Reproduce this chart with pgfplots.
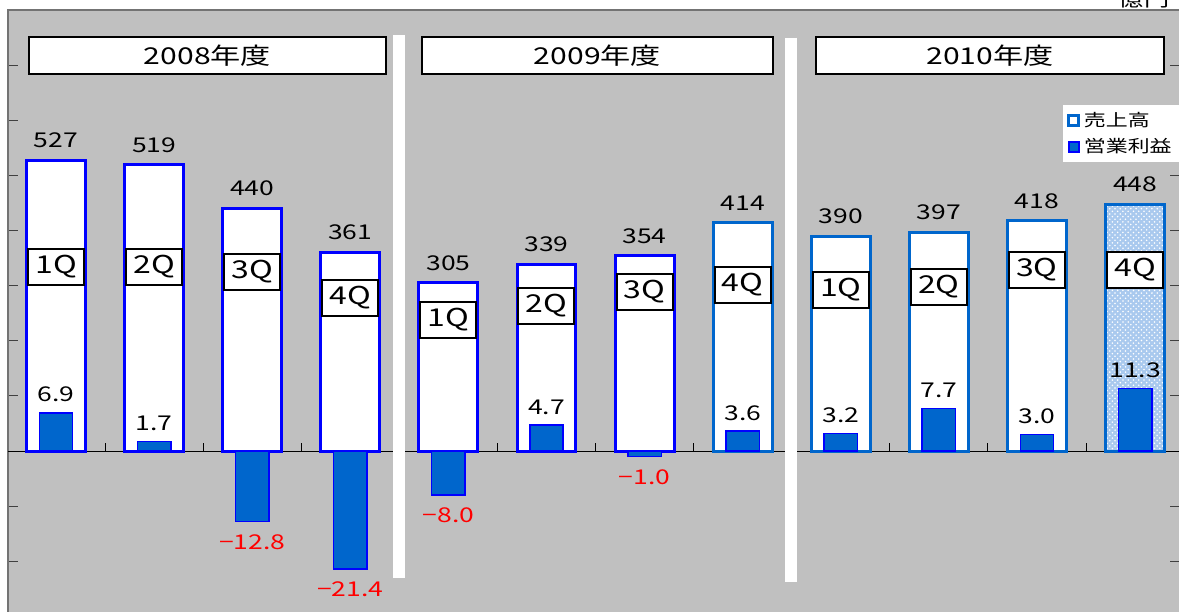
\documentclass[border=0pt]{standalone}
\usepackage{fontspec}
\setmainfont{Noto Sans CJK JP}[FakeStretch=1.3]
\usepackage{pgfplots}
\pgfplotsset{compat=1.18}
\usepackage{pgfplotstable}
\usetikzlibrary{patterns}

\definecolor{bg}{HTML}{C0C0C0}
\definecolor{bbar}{HTML}{0000FF}
\definecolor{mbar}{HTML}{0066CC}
\definecolor{dotfill}{HTML}{A9C9EE}

% revenue (left scale), three border styles
\pgfplotstableread{
x rev
0 527
1 519
2 440
3 361
4 305
5 339
6 354
}\revA
\pgfplotstableread{
x rev
7 414
8 390
9 397
10 418
}\revB
\pgfplotstableread{
x rev
11 448
}\revC
% operating profit
\pgfplotstableread{
x op lab
0 6.9 6.9
1 1.7 1.7
5 4.7 4.7
7 3.6 3.6
8 3.2 3.2
9 7.7 7.7
10 3.0 3.0
11 11.3 11.3
}\profpos
\pgfplotstableread{
x op lab
2 -12.8 −12.8
3 -21.4 −21.4
4 -8.0 −8.0
6 -1.0 −1.0
}\profneg

\tikzset{
  qbox/.style={draw=black, fill=white, line width=0.04cm, minimum width=1.12cm,
    minimum height=0.72cm, inner sep=0pt, font=\fontsize{14}{16}\selectfont},
  ybox/.style={draw=black, fill=white, line width=0.04cm, minimum height=0.74cm,
    inner sep=0pt, font=\fontsize{13.2}{15}\selectfont},
}
\pgfplotsset{
  common/.style={
    at={(0.16cm,-0.088cm)}, anchor=south west,
    scale only axis, width=23.44cm, height=12.128cm,
    xmin=-0.4893, xmax=11.458,
    clip=false,
  },
  revlab/.style={
    nodes near coords, point meta=explicit symbolic,
    every node near coord/.append style={anchor=base, yshift=0.25cm, inner sep=0pt,
      text=black, font=\fontsize{11.6}{13}\selectfont},
  },
}

\begin{document}
\begin{tikzpicture}
\begin{axis}[
  common,
  ymin=-300, ymax=800,
  axis background/.style={fill=bg},
  axis line style={black!55, line width=0.03cm},
  xtick=\empty,
  ytick={-300,-200,...,800}, yticklabels={},
  ytick style={black!75, line width=0.02cm},
  major tick length=0.2cm, tick align=inside,
  ybar, bar width=0.6, bar shift=0pt,
]
\draw[black, line width=0.02cm] (axis cs:-0.4893,0) -- (axis cs:11.458,0);
\pgfplotsinvokeforeach{0.5,1.5,...,10.5}{
  \draw[black, line width=0.02cm] (axis cs:#1,0) -- ++(0pt,0.16cm);
}
\addplot[draw=bbar, fill=white, line width=0.06cm, revlab] table[x=x, y=rev, meta=rev] {\revA};
\addplot[draw=mbar, fill=white, line width=0.06cm, revlab] table[x=x, y=rev, meta=rev] {\revB};
\addplot[draw=mbar, fill=dotfill, line width=0.06cm, revlab,
  postaction={pattern=crosshatch dots, pattern color=white}] table[x=x, y=rev, meta=rev] {\revC};

% quarter tags
\node[qbox] at (axis cs:0,333.8) {1Q};
\node[qbox] at (axis cs:1,333.8) {2Q};
\node[qbox] at (axis cs:2,324.7) {3Q};
\node[qbox] at (axis cs:3,277.6) {4Q};
\node[qbox] at (axis cs:4,237.6) {1Q};
\node[qbox] at (axis cs:5,263) {2Q};
\node[qbox] at (axis cs:6,288.4) {3Q};
\node[qbox] at (axis cs:7,301.1) {4Q};
\node[qbox] at (axis cs:8,292) {1Q};
\node[qbox] at (axis cs:9,297.5) {2Q};
\node[qbox] at (axis cs:10,328.3) {3Q};
\node[qbox] at (axis cs:11,328.3) {4Q};

% year headers and separators
\node[ybox, minimum width=7.14cm] at (axis cs:1.544,716.6) {2008年度};
\node[ybox, minimum width=7.02cm] at (axis cs:5.520,716.6) {2009年度};
\node[ybox, minimum width=6.96cm] at (axis cs:9.521,716.6) {2010年度};
\draw[white, line width=0.24cm] (axis cs:3.497,755) -- (axis cs:3.497,-230.5);
\draw[white, line width=0.24cm] (axis cs:7.492,750) -- (axis cs:7.492,-238);
\end{axis}

\begin{axis}[
  common,
  ymin=-30, ymax=80,
  axis line style={draw=none},
  xtick=\empty, ytick=\empty,
  ybar, bar width=0.34, bar shift=0pt,
  legend image code/.code={\draw[#1] (0cm,-0.1cm) rectangle (0.2cm,0.1cm);},
  legend style={at={(0.9002,0.8433)}, anchor=north west, draw=none, fill=white,
    font=\fontsize{9.6}{11}\selectfont, inner xsep=0.08cm, inner ysep=0.06cm,
    row sep=0.06cm, cells={anchor=west}},
]
\addlegendimage{draw=mbar, fill=white, line width=0.06cm}
\addlegendentry{売上高}
\addplot[draw=bbar, fill=mbar, line width=0.03cm,
  nodes near coords, point meta=explicit symbolic,
  every node near coord/.append style={anchor=base, yshift=0.22cm, inner sep=0pt,
    text=black, font=\fontsize{11.6}{13}\selectfont}]
  table[x=x, y=op, meta=lab] {\profpos};
\addlegendentry{営業利益}
\addplot[forget plot, draw=bbar, fill=mbar, line width=0.03cm,
  nodes near coords, point meta=explicit symbolic,
  every node near coord/.append style={anchor=north, yshift=-0.24cm, inner sep=0pt,
    text=red, font=\fontsize{11.6}{13}\selectfont}]
  table[x=x, y=op, meta=lab] {\profneg};
\end{axis}

\node[anchor=base, font=\fontsize{11}{12}\selectfont] at (22.88cm,12.1cm) {億円};
\pgfresetboundingbox
\useasboundingbox (0,0) rectangle (23.58cm,12.24cm);
\end{tikzpicture}
\end{document}
